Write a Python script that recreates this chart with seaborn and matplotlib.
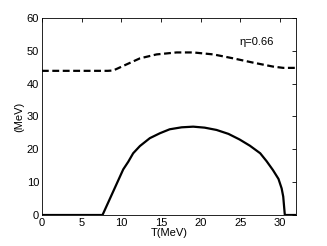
import numpy as np
import pandas as pd
import matplotlib
matplotlib.use("Agg")
import matplotlib.pyplot as plt
import seaborn as sns

# solid curve
t_solid = [0, 7.64, 10.25, 10.88, 11.5, 12.35, 13.6, 14.87, 16.1, 17.6, 19.06, 20.5,
           22.0, 23.5, 24.9, 26.2, 27.5, 28.3, 29.1, 29.8, 30.2, 30.4, 30.6, 32]
v_solid = [0, 0, 13.9, 16.2, 18.8, 21.0, 23.4, 24.9, 26.1, 26.7, 26.9, 26.6,
           25.9, 24.7, 23.0, 21.1, 18.8, 16.4, 13.7, 11.0, 8.1, 5.6, 0, 0]

# dashed curve
t_dash = [0, 6.05, 8.3, 8.98, 10.25, 12.35, 14.45, 16.97, 19.06, 21.6, 24.1, 26.6, 29.1, 30.4, 32]
v_dash = [43.9, 43.9, 43.9, 44.0, 45.4, 47.7, 48.9, 49.5, 49.5, 48.9, 47.7, 46.4, 45.2, 44.8, 44.8]

sns.set_style("white")
plt.rcParams['font.family'] = ['Liberation Sans', 'DejaVu Sans']
plt.rcParams['text.color'] = 'black'
plt.rcParams['axes.labelcolor'] = 'black'
plt.rcParams['xtick.color'] = 'black'
plt.rcParams['ytick.color'] = 'black'

fig = plt.figure(figsize=(3.27, 2.46), dpi=100)
ax = fig.add_axes([0.128, 0.126, 0.777, 0.801])

df_s = pd.DataFrame({'T': t_solid, 'v': v_solid})
df_d = pd.DataFrame({'T': t_dash, 'v': v_dash})
sns.lineplot(data=df_s, x='T', y='v', ax=ax, color='black', lw=1.6)
sns.lineplot(data=df_d, x='T', y='v', ax=ax, color='black', lw=1.6, linestyle=(0, (3.1, 1.6)))

ax.set_xlim(0, 32)
ax.set_ylim(0, 60)
ax.set_xticks([0, 5, 10, 15, 20, 25, 30])
ax.set_yticks([0, 10, 20, 30, 40, 50, 60])
ax.tick_params(direction='in', top=True, right=True, length=3, width=0.6, labelsize=8, pad=2)
for sp in ax.spines.values():
    sp.set_color('black')
    sp.set_linewidth(0.6)
ax.set_xlabel('T(MeV)', fontsize=8, labelpad=0)
ax.set_ylabel('(MeV)', fontsize=8, labelpad=2)
ax.text(27.1, 52.7, 'η=0.66', fontsize=8, ha='center', va='center')

fig.savefig('out.png', dpi=100)
